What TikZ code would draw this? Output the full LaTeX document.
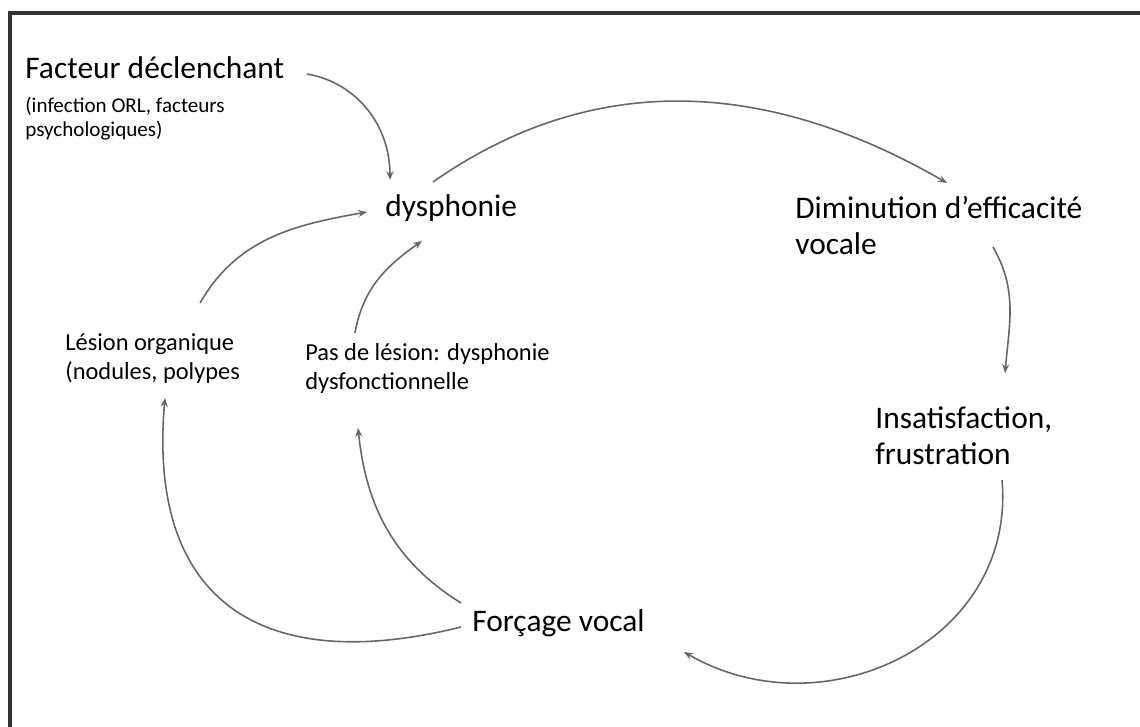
\documentclass[tikz,border=0pt]{standalone}
\usepackage{fontspec}
\setmainfont{Carlito}
\usetikzlibrary{arrows.meta}
\tikzstyle{bigtext} = [inner sep=0pt, align=left, anchor=base west, text=black, font=\fontsize{17.9}{21}\selectfont]
\tikzstyle{midtext} = [inner sep=0pt, align=left, anchor=base west, text=black, font=\fontsize{13.9}{17}\selectfont]
\tikzstyle{smalltext} = [inner sep=0pt, align=left, anchor=base west, text=black, font=\fontsize{12}{14.2}\selectfont]
\tikzstyle{arrow} = [draw=black!60, line width=0.9pt, -{Stealth[length=5pt,width=4pt]}]
\tikzstyle{frame} = [draw=black!80, line width=1.8pt]

\begin{document}
\begin{tikzpicture}[x=0.02cm, y=0.02cm]
        \useasboundingbox (0,0) rectangle (1140,727);
        \draw [frame] (10,0) -- (10,714) -- (1140,714);

        % Nodes (base = last line)
        \node (facteur) [bigtext] at (25,648) {Facteur déclenchant};
        \node (facteursub) [smalltext] at (25,590) {(infection ORL, facteurs\\psychologiques)};
        \node (dysph) [bigtext] at (385,510) {dysphonie};
        \node (dimin) [bigtext] at (795,472) {Diminution d’efficacité\\vocale};
        \node (insat) [bigtext] at (875,262) {Insatisfaction,\\frustration};
        \node (lesion) [midtext] at (65,347) {Lésion organique\\(nodules, polypes};
        \node (pasles) [midtext] at (305,337) {Pas de lésion: dysphonie\\dysfonctionnelle};
        \node (forcage) [bigtext] at (472,95) {Forçage vocal};

        % Arrows
        \draw [arrow] ([shift={(282,5)}]facteur.base west) to[out=-10, in=90] ([shift={(5,37)}]dysph.base west);
        \draw [arrow] ([shift={(135,77)}]lesion.base west) to[out=60, in=190] ([shift={(-18,5)}]dysph.base west);
        \draw [arrow] ([shift={(50,57)}]pasles.base west) to[out=80, in=215] ([shift={(37,-24)}]dysph.base west);
        \draw [arrow] ([shift={(48,35)}]dysph.base west) to[out=35, in=150] ([shift={(152,72)}]dimin.base west);
        \draw [arrow] ([shift={(198,8)}]dimin.base west) to[out=-60, in=85] ([shift={(130,92)}]insat.base west);
        \draw [arrow] ([shift={(127,-15)}]insat.base west) to[out=-85, in=-30, looseness=1.15] ([shift={(212,-20)}]forcage.base west);
        \draw [arrow] ([shift={(-11,29)}]forcage.base west) to[out=148, in=-84] ([shift={(53,-38)}]pasles.base west);
        \draw [arrow] ([shift={(-11,5)}]forcage.base west) to[out=194, in=-95, looseness=1.4] ([shift={(100,-18)}]lesion.base west);

\end{tikzpicture}
\end{document}
